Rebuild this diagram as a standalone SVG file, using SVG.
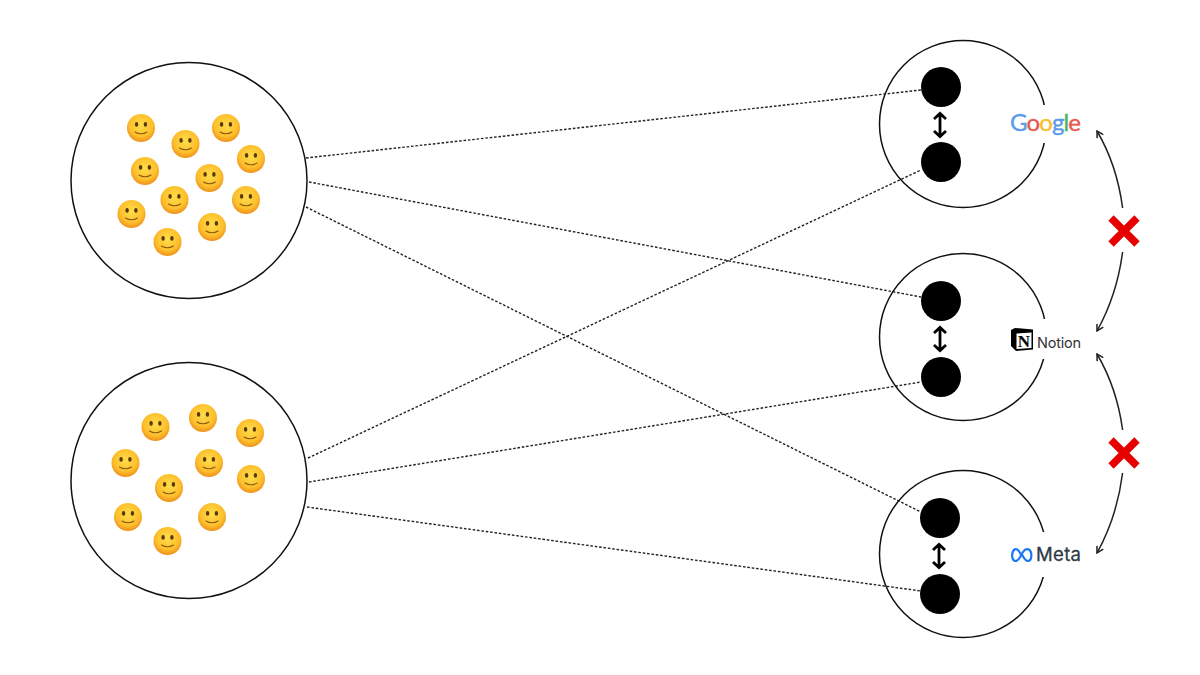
<svg xmlns="http://www.w3.org/2000/svg" width="1200" height="675" viewBox="0 0 1200 675">
<style>
.ring{fill:none;stroke:#111;stroke-width:1.5}
.dot{fill:#000}
.link{fill:none;stroke:#222;stroke-width:1.4;stroke-dasharray:2.6 1.8}
.curve{fill:none;stroke:#222;stroke-width:1.5;marker-end:url(#open)}
.dbl{fill:none;stroke:#000;stroke-width:2.8}
.cross{fill:none;stroke:#e60000;stroke-width:7.5}
.mask{fill:#fff}
text{font-family:"Inter","Liberation Sans",sans-serif}
</style>
<defs>
<marker id="open" viewBox="0 0 10 10" refX="9" refY="5" markerWidth="8" markerHeight="8" markerUnits="userSpaceOnUse" orient="auto"><path d="M1 0.5L9 5L1 9.5" fill="none" stroke="#222" stroke-width="1.9"/></marker>
<radialGradient id="face" cx="50%" cy="40%" r="58%"><stop offset="0" stop-color="#ffdc4a"/><stop offset="0.7" stop-color="#fdc02c"/><stop offset="1" stop-color="#f0951e"/></radialGradient>
<g id="smile"><circle r="14" fill="url(#face)"/><ellipse cx="-4.400" cy="-3.600" rx="1.700" ry="2.300" fill="#5a3a0c"/><ellipse cx="4.400" cy="-3.600" rx="1.700" ry="2.300" fill="#5a3a0c"/><path d="M-6 4Q0 7.600 6 4" fill="none" stroke="#8a5a14" stroke-width="1.100" stroke-linecap="round"/></g>
<path id="updown" class="dbl" d="M0 -10V10M-6 -6L0 -11.500L6 -6M-6 6L0 11.500L6 6"/>
</defs>
<rect width="1200" height="675" fill="#fff"/>
<g id="connectors">
<path class="link" d="M306 158L921 90"/>
<path class="link" d="M309 182L921 297"/>
<path class="link" d="M306 207L921 512"/>
<path class="link" d="M308 458L921 170"/>
<path class="link" d="M309 482L921 382"/>
<path class="link" d="M307 507L921 591"/>
<path class="curve" d="M1122.600 208Q1117 165 1097 131"/>
<path class="curve" d="M1122.600 252Q1117 295 1097 331"/>
<path class="curve" d="M1122.600 430Q1117 388 1097 354"/>
<path class="curve" d="M1122.600 473Q1117 517 1097 553"/>
</g>
<g id="group-top">
<circle class="ring" cx="189" cy="180.500" r="118"/>
<use href="#smile" x="141" y="128"/><use href="#smile" x="185.500" y="144"/><use href="#smile" x="226" y="128"/><use href="#smile" x="251" y="159"/><use href="#smile" x="145" y="171"/><use href="#smile" x="209.500" y="178"/><use href="#smile" x="174.500" y="200"/><use href="#smile" x="246" y="200"/><use href="#smile" x="131.500" y="214"/><use href="#smile" x="212" y="227"/><use href="#smile" x="167.500" y="242"/>
</g>
<g id="group-bottom">
<circle class="ring" cx="189" cy="480.500" r="118"/>
<use href="#smile" x="155.500" y="427"/><use href="#smile" x="203" y="418"/><use href="#smile" x="250" y="433"/><use href="#smile" x="125.500" y="463"/><use href="#smile" x="209" y="463"/><use href="#smile" x="251" y="479"/><use href="#smile" x="169" y="488"/><use href="#smile" x="128" y="517"/><use href="#smile" x="212" y="517"/><use href="#smile" x="167.500" y="541"/>
</g>
<g id="node-google">
<circle class="ring" cx="963" cy="124" r="83.500"/>
<rect class="mask" x="1030" y="105" width="30" height="38"/>
<circle class="dot" cx="941" cy="87" r="20"/><circle class="dot" cx="941" cy="162" r="20"/>
<use href="#updown" x="940" y="125"/>
<text x="1010" y="130.500" font-size="24" stroke-width="0.400" style="font-family:Lato,'Open Sans',sans-serif" textLength="71"><tspan fill="#5b9bea" stroke="#5b9bea">G</tspan><tspan fill="#e8554e" stroke="#e8554e">o</tspan><tspan fill="#f6c026" stroke="#f6c026">o</tspan><tspan fill="#5b9bea" stroke="#5b9bea">g</tspan><tspan fill="#4fb163" stroke="#4fb163">l</tspan><tspan fill="#e8554e" stroke="#e8554e">e</tspan></text>
</g>
<g id="node-notion">
<circle class="ring" cx="963" cy="337" r="83.500"/>
<rect class="mask" x="1030" y="319" width="30" height="40"/>
<circle class="dot" cx="941" cy="301" r="20"/><circle class="dot" cx="941" cy="377" r="20"/>
<use href="#updown" x="940" y="339"/>
<path d="M1011 330L1015 328L1033 329.500V349.500L1016 351L1011 346Z" fill="#000"/>
<path d="M1016.500 333.500L1031.500 332.500V348L1016.500 349Z" fill="#fff"/>
<text x="1024" y="347" font-size="17" font-weight="700" text-anchor="middle" fill="#000" style="font-family:'Liberation Serif',serif">N</text>
<text x="1037" y="347.500" font-size="14.500" fill="#333" textLength="44">Notion</text>
</g>
<g id="node-meta">
<circle class="ring" cx="963" cy="554" r="83.500"/>
<rect class="mask" x="1030" y="532" width="30" height="45"/>
<circle class="dot" cx="940" cy="518" r="20"/><circle class="dot" cx="940" cy="594" r="20"/>
<use href="#updown" x="939" y="556"/>
<path d="M1021.500 555.500C1018.500 549 1016 548.500 1014.500 549.500C1011 552 1011.500 561 1015.500 561C1019 561 1021 555 1023 552C1025 549 1027 548.500 1029 549.500C1032.500 552 1032 561 1028 561C1025 561 1023 556.500 1021.500 553.500" fill="none" stroke="#1a78f0" stroke-width="2.200"/>
<text x="1036" y="561" font-size="18.500" font-weight="400" fill="#2f3a46" stroke="#2f3a46" stroke-width="0.300" textLength="45">Meta</text>
</g>
<g id="cross-1"><path class="cross" d="M1111 218L1137 244M1137 218L1111 244"/></g>
<g id="cross-2"><path class="cross" d="M1111 440L1137 466M1137 440L1111 466"/></g>
</svg>
